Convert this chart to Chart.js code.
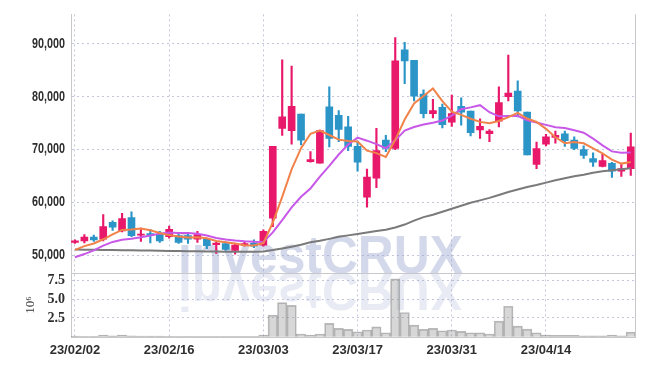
<!DOCTYPE html>
<html>
<head>
<meta charset="utf-8">
<script src="https://cdn.jsdelivr.net/npm/chart.js@4.4.0/dist/chart.umd.min.js"></script>
<style>
  html, body { margin: 0; padding: 0; background: #fff; }
  #wrap { width: 645px; height: 366px; }
</style>
</head>
<body>
<div id="wrap"><canvas id="chart"></canvas></div>
<script>
// trading days, 2023-02-02 .. 2023-04-27
const dates = [
  '23/02/02','23/02/03','23/02/06','23/02/07','23/02/08','23/02/09','23/02/10','23/02/13','23/02/14','23/02/15',
  '23/02/16','23/02/17','23/02/20','23/02/21','23/02/22','23/02/23','23/02/24','23/02/27','23/02/28','23/03/02',
  '23/03/03','23/03/06','23/03/07','23/03/08','23/03/09','23/03/10','23/03/13','23/03/14','23/03/15','23/03/16',
  '23/03/17','23/03/20','23/03/21','23/03/22','23/03/23','23/03/24','23/03/27','23/03/28','23/03/29','23/03/30',
  '23/03/31','23/04/03','23/04/04','23/04/05','23/04/06','23/04/07','23/04/10','23/04/11','23/04/12','23/04/13',
  '23/04/14','23/04/17','23/04/18','23/04/19','23/04/20','23/04/21','23/04/24','23/04/25','23/04/26','23/04/27'
];

const opens = [
  52400,52700,53400,53000,56200,54600,57100,53800,54100,54000,
  53500,53700,53700,53000,53000,52000,52200,50900,51900,52300,
  51900,57000,74000,73600,76700,67700,67400,78100,76500,74300,
  70600,61000,64600,71800,70200,88900,86900,80500,76800,78000,
  75200,78200,77300,73700,73000,75400,80000,81100,77100,67200,
  71000,72300,73000,71800,70000,68300,66800,67400,65900,66400
];
const highs = [
  52900,53900,53800,57700,56500,57900,58200,55100,54900,54500,
  55500,54200,54200,54500,53200,52400,52500,52200,52500,52900,
  54800,70600,87000,85800,76700,69600,73700,81900,77400,76300,
  71600,66300,74000,72700,91200,90300,86900,81300,79500,78600,
  80300,79800,77300,75800,73800,81900,87900,83000,77100,71400,
  72900,73500,73500,72400,70700,69400,69100,67600,67300,73100
];
const lows = [
  52200,52300,52600,52700,54700,54400,53500,52600,52300,52400,
  53200,52200,52200,52400,51200,50300,50900,50200,51700,51400,
  51700,55400,72700,71000,70900,67600,67400,70500,71500,69800,
  65900,59100,62800,69600,70000,82500,79200,76000,76000,74100,
  74400,74600,72600,72100,71500,74300,79200,76200,69000,66400,
  70700,71200,70600,70000,68300,66800,66700,64700,64900,65100
];
const closes = [
  52700,53400,52900,55400,55300,56900,53700,53950,53700,52700,
  54900,52400,53000,53900,51800,52300,51100,51900,52200,51700,
  54500,70600,76200,78200,71800,68100,73600,72100,73800,70600,
  67600,64800,69800,70200,86800,86800,80100,76800,77400,74700,
  76800,77100,73200,74400,73500,78900,80700,77300,69000,70200,
  72400,72700,71700,70200,68900,67600,67900,65900,66400,70500
];

// moving averages as drawn (5, 10, 60 day)
const ma5 = [
  51000,51700,52200,53000,53940,54780,54840,55050,54710,54190,
  53790,53530,53340,53380,53200,52680,52420,52200,51860,51840,
  52280,56180,61040,66240,70260,72980,73580,72760,71880,71640,
  71540,69780,69320,68600,71840,75680,78740,80140,81580,79160,
  77160,76560,75840,75240,75000,75420,76140,76960,75880,75220,
  73920,72320,71200,71440,71180,70220,69260,68100,67340,67660
];
const ma10 = [
  49600,50200,50900,51800,52500,52900,53100,53400,53700,54070,
  54290,54190,54200,54050,53700,53240,52980,52770,52620,52520,
  52480,54300,56620,59050,61050,62630,64880,66900,69060,70950,
  72260,71680,71040,70240,71740,73610,74260,74730,75090,75500,
  76420,77650,77990,78410,77080,76290,76350,76400,75560,75110,
  74670,74230,74080,73660,73200,72070,70790,69650,69390,69420
];
const ma60 = [
  51050,51030,51000,50980,50950,50930,50900,50880,50860,50830,
  50800,50780,50750,50730,50700,50680,50660,50640,50630,50620,
  50700,50950,51250,51590,51960,52430,52710,53080,53460,53740,
  54020,54300,54580,54800,55230,55790,56540,57200,57660,58220,
  58780,59350,59910,60370,60840,61400,61960,62430,62900,63270,
  63740,64200,64580,64950,65230,65610,65890,66070,66260,66450
];

// volume, millions of shares
const volumes = [
  0.08,0.06,0.06,0.20,0.10,0.20,0.10,0.08,0.07,0.07,
  0.06,0.06,0.05,0.05,0.06,0.06,0.05,0.05,0.05,0.05,
  0.22,2.87,4.55,4.19,0.36,0.22,0.36,1.77,1.11,0.98,
  0.66,0.89,1.32,0.53,7.72,3.23,1.55,0.98,1.11,0.79,
  0.89,0.71,0.53,0.53,0.36,2.08,4.06,1.42,1.02,0.53,
  0.22,0.17,0.17,0.17,0.10,0.10,0.10,0.22,0.13,0.62
];

const dateTickIdx = [0, 10, 20, 30, 40, 50];
const priceTicks = [50000, 60000, 70000, 80000, 90000];
const volTicks = [2.5, 5, 7.5];

const UP = '#e8196a';
const DOWN = '#2c95c8';
const GRID = '#c4c6da';
const AXIS_LINE = '#c8c8cc';
const LABEL = '#2f2f2f';

const idx = dates.map((d, i) => i);
const candleColor = idx.map(i => closes[i] >= opens[i] ? UP : DOWN);

const bodies = idx.map(i => ({ x: i, y: [opens[i], closes[i]] }));
const wicks = idx.map(i => ({ x: i, y: [lows[i], highs[i]] }));
const line = arr => arr.map((v, i) => ({ x: i, y: v }));

// watermark with reflection
const watermark = {
  id: 'watermark',
  beforeDatasetsDraw(chart) {
    const { ctx, chartArea } = chart;
    const base = chart.scales.yVol.top;
    const text = 'investCRUX';
    ctx.save();
    ctx.font = "bold 53px 'Liberation Sans', Arial, sans-serif";
    const w = ctx.measureText(text).width;
    const sx = 285 / w;
    const left = chartArea.left + 107;
    ctx.textBaseline = 'alphabetic';
    ctx.fillStyle = 'rgba(150,162,205,0.42)';
    ctx.save();
    ctx.translate(left, base);
    ctx.scale(sx, 1);
    ctx.fillText(text, 0, 0);
    ctx.restore();
    ctx.save();
    ctx.beginPath();
    ctx.rect(chartArea.left, base, chartArea.width, chartArea.bottom - base);
    ctx.clip();
    ctx.translate(left, base);
    ctx.scale(sx, -1);
    ctx.fillStyle = 'rgba(150,162,205,0.22)';
    ctx.fillText(text, 0, 0);
    ctx.restore();
    ctx.restore();
  }
};

// condensed price labels (squeezed Liberation Sans Bold)
const priceLabels = {
  id: 'priceLabels',
  afterDraw(chart) {
    const { ctx } = chart;
    const s = chart.scales.y;
    ctx.save();
    ctx.font = "bold 14px 'Liberation Sans', Arial, sans-serif";
    ctx.fillStyle = LABEL;
    ctx.textAlign = 'right';
    ctx.textBaseline = 'middle';
    s.ticks.forEach(t => {
      ctx.save();
      ctx.translate(s.right - 6, s.getPixelForValue(t.value));
      ctx.scale(0.77, 1);
      ctx.fillText(t.value.toLocaleString('en-US'), 0, 0);
      ctx.restore();
    });
    ctx.restore();
  }
};

// right edge and divider between price and volume panels
const frame = {
  id: 'frame',
  afterDraw(chart) {
    const { ctx, chartArea: a } = chart;
    const yd = Math.round(chart.scales.yVol.top) + 0.5;
    ctx.save();
    ctx.strokeStyle = AXIS_LINE;
    ctx.lineWidth = 1;
    ctx.beginPath();
    ctx.moveTo(Math.round(a.right) + 0.5, a.top);
    ctx.lineTo(Math.round(a.right) + 0.5, a.bottom);
    ctx.moveTo(a.left, yd);
    ctx.lineTo(a.right, yd);
    ctx.stroke();
    ctx.restore();
  }
};

new Chart(document.getElementById('chart'), {
  type: 'bar',
  data: {
    datasets: [
      {
        type: 'line', data: line(ma5), yAxisID: 'y',
        borderColor: '#f0824a', borderWidth: 2, pointRadius: 0, tension: 0, order: 0
      },
      {
        type: 'line', data: line(ma10), yAxisID: 'y',
        borderColor: '#c858e8', borderWidth: 2, pointRadius: 0, tension: 0, order: 0
      },
      {
        type: 'line', data: line(ma60), yAxisID: 'y',
        borderColor: '#7a7a7a', borderWidth: 2, pointRadius: 0, tension: 0, order: 0
      },
      {
        data: bodies, yAxisID: 'y', grouped: false,
        backgroundColor: candleColor, borderWidth: 0,
        barThickness: 7, minBarLength: 1, order: 1
      },
      {
        data: wicks, yAxisID: 'y', grouped: false,
        backgroundColor: candleColor, borderWidth: 0,
        barThickness: 1.5, order: 2
      },
      {
        data: line(volumes), yAxisID: 'yVol', grouped: false,
        backgroundColor: 'rgba(150,150,150,0.38)',
        borderColor: 'rgba(120,120,120,0.5)', borderWidth: 1,
        barThickness: 9.4, order: 3
      }
    ]
  },
  options: {
    responsive: true,
    maintainAspectRatio: false,
    animation: false,
    layout: { padding: { top: 10, right: 10, left: 0, bottom: 0 } },
    plugins: { legend: { display: false }, tooltip: { enabled: false } },
    scales: {
      x: {
        type: 'linear',
        offset: false,
        min: -0.42,
        max: 59.45,
        afterBuildTicks: s => { s.ticks = dateTickIdx.map(v => ({ value: v })); },
        afterFit: s => { s.height = 29; },
        ticks: {
          autoSkip: false, maxRotation: 0, padding: 6, color: LABEL,
          font: { family: "'Liberation Sans', Arial, sans-serif", weight: 'bold', size: 13 },
          callback: v => dates[v]
        },
        grid: { color: GRID, drawTicks: false, offset: false },
        border: { color: AXIS_LINE, dash: [2, 3] }
      },
      y: {
        type: 'linear',
        position: 'left',
        stack: 'panels',
        stackWeight: 262,
        weight: 1,
        min: 46636,
        max: 95604,
        afterBuildTicks: s => { s.ticks = priceTicks.map(v => ({ value: v })); },
        afterFit: s => { s.width = 71; },
        ticks: { display: false, autoSkip: false },
        grid: { color: GRID, drawTicks: false },
        border: { color: AXIS_LINE, dash: [2, 3] }
      },
      yVol: {
        type: 'linear',
        position: 'left',
        stack: 'panels',
        stackWeight: 65,
        weight: 0,
        min: -0.04,
        max: 8.52,
        afterBuildTicks: s => { s.ticks = volTicks.map(v => ({ value: v })); },
        afterFit: s => { s.width = 71; },
        ticks: {
          autoSkip: false, padding: 6, color: LABEL,
          font: { family: "'Liberation Serif', serif", weight: 'bold', size: 14 },
          callback: v => v.toFixed(1)
        },
        title: {
          display: true, text: '10⁶', color: LABEL,
          font: { family: "'Liberation Serif', serif", size: 13 },
          padding: { top: 23, bottom: 0 }
        },
        grid: { color: GRID, drawTicks: false },
        border: { color: AXIS_LINE, dash: [2, 3] }
      }
    }
  },
  plugins: [watermark, priceLabels, frame]
});
</script>
</body>
</html>
